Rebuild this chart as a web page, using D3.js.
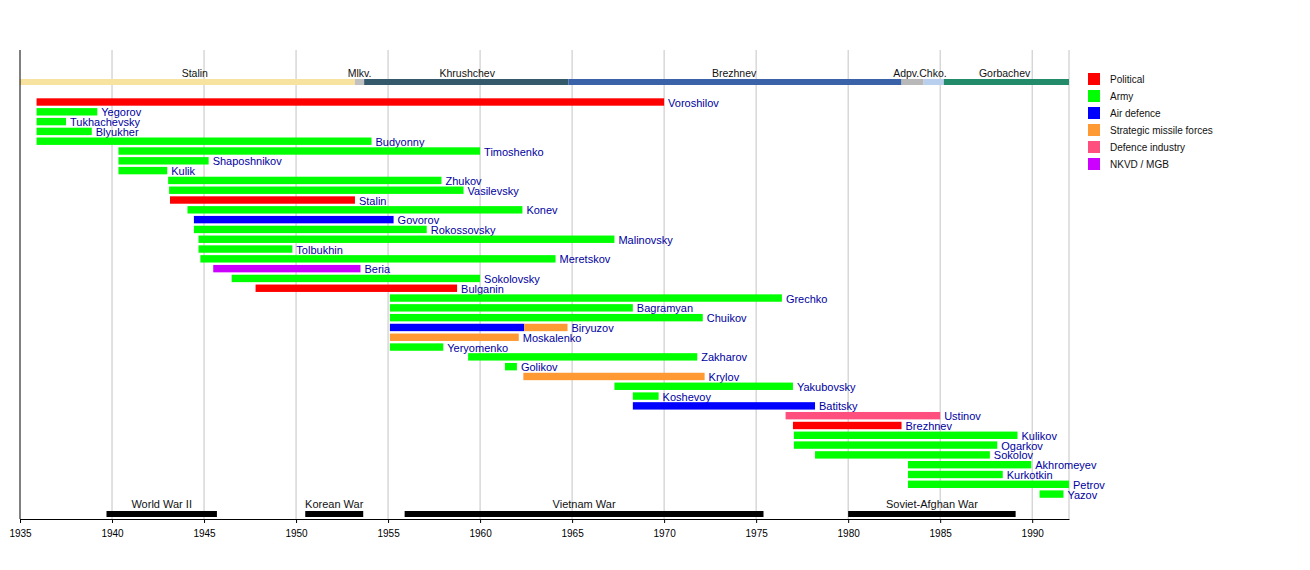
<!DOCTYPE html>
<html><head><meta charset="utf-8">
<script src="https://cdn.jsdelivr.net/npm/d3@7"></script>
<style>body{margin:0;background:#fff}text{font-family:"Liberation Sans",Arial,sans-serif}</style>
</head><body><div id="chart"></div>
<script>
const categories = ["Political", "Army", "Air defence", "Strategic missile forces", "Defence industry", "NKVD / MGB"];
const catColors = ["#ff0000", "#00ff00", "#0000ff", "#ff9933", "#ff4f7f", "#cc00ff"];

// name, [segments: start, end, category]
const marshals = [
    ["Voroshilov", [[1935.9, 1970.0, "Political"]]],
    ["Yegorov", [[1935.9, 1939.2, "Army"]]],
    ["Tukhachevsky", [[1935.9, 1937.5, "Army"]]],
    ["Blyukher", [[1935.9, 1938.9, "Army"]]],
    ["Budyonny", [[1935.9, 1954.1, "Army"]]],
    ["Timoshenko", [[1940.35, 1960.0, "Army"]]],
    ["Shaposhnikov", [[1940.35, 1945.25, "Army"]]],
    ["Kulik", [[1940.35, 1943.0, "Army"]]],
    ["Zhukov", [[1943.05, 1957.9, "Army"]]],
    ["Vasilevsky", [[1943.1, 1959.1, "Army"]]],
    ["Stalin", [[1943.15, 1953.2, "Political"]]],
    ["Konev", [[1944.1, 1962.3, "Army"]]],
    ["Govorov", [[1944.45, 1955.3, "Air defence"]]],
    ["Rokossovsky", [[1944.45, 1957.1, "Army"]]],
    ["Malinovsky", [[1944.7, 1967.3, "Army"]]],
    ["Tolbukhin", [[1944.7, 1949.8, "Army"]]],
    ["Meretskov", [[1944.8, 1964.1, "Army"]]],
    ["Beria", [[1945.5, 1953.5, "NKVD / MGB"]]],
    ["Sokolovsky", [[1946.5, 1960.0, "Army"]]],
    ["Bulganin", [[1947.8, 1958.75, "Political"]]],
    ["Grechko", [[1955.1, 1976.4, "Army"]]],
    ["Bagramyan", [[1955.1, 1968.3, "Army"]]],
    ["Chuikov", [[1955.1, 1972.1, "Army"]]],
    ["Biryuzov", [[1955.1, 1962.4, "Air defence"], [1962.4, 1964.75, "Strategic missile forces"]]],
    ["Moskalenko", [[1955.1, 1962.1, "Strategic missile forces"]]],
    ["Yeryomenko", [[1955.1, 1958.0, "Army"]]],
    ["Zakharov", [[1959.35, 1971.8, "Army"]]],
    ["Golikov", [[1961.35, 1962.0, "Army"]]],
    ["Krylov", [[1962.35, 1972.2, "Strategic missile forces"]]],
    ["Yakubovsky", [[1967.3, 1977.0, "Army"]]],
    ["Koshevoy", [[1968.3, 1969.7, "Army"]]],
    ["Batitsky", [[1968.3, 1978.2, "Air defence"]]],
    ["Ustinov", [[1976.6, 1985.0, "Defence industry"]]],
    ["Brezhnev", [[1977.0, 1982.9, "Political"]]],
    ["Kulikov", [[1977.05, 1989.2, "Army"]]],
    ["Ogarkov", [[1977.05, 1988.1, "Army"]]],
    ["Sokolov", [[1978.2, 1987.7, "Army"]]],
    ["Akhromeyev", [[1983.25, 1989.95, "Army"]]],
    ["Kurkotkin", [[1983.25, 1988.4, "Army"]]],
    ["Petrov", [[1983.25, 1992.0, "Army"]]],
    ["Yazov", [[1990.4, 1991.7, "Army"]]]
];

const leaders = [
    ["Stalin", 1935.0, 1953.2, "#f7e2a0"],
    ["Mlkv.", 1953.2, 1953.7, "#c0c0c0"],
    ["Khrushchev", 1953.7, 1964.8, "#34596b"],
    ["Brezhnev", 1964.8, 1982.9, "#3a62a8"],
    ["Adpv.", 1982.9, 1984.1, "#b8b8b8"],
    ["Chko.", 1984.1, 1985.2, "#b8cfee"],
    ["Gorbachev", 1985.2, 1992.0, "#238a6a"]
];
const leaderLabels = [["Stalin", 1944.5], ["Mlkv.", 1953.45], ["Khrushchev", 1959.3], ["Brezhnev", 1973.8], ["Adpv.Chko.", 1983.9], ["Gorbachev", 1988.5]];

const wars = [
    ["World War II", 1939.7, 1945.7],
    ["Korean War", 1950.5, 1953.65],
    ["Vietnam War", 1955.9, 1975.4],
    ["Soviet-Afghan War", 1980.0, 1989.1]
];
const tickYears = [1935, 1940, 1945, 1950, 1955, 1960, 1965, 1970, 1975, 1980, 1985, 1990];

const W = 1310, H = 570;
const svg = d3.select("#chart").append("svg").attr("width", W).attr("height", H);

const x = d3.scaleLinear().domain([1935, 1992]).range([20, 1069]);
const y = d3.scaleBand().domain(marshals.map(d => d[0])).range([97.1, 499.0]);
const color = d3.scaleOrdinal().domain(categories).range(catColors);
const plotTop = 50, axisY = 519;

// gridlines
svg.append("g").selectAll("line")
    .data(tickYears.slice(1).concat([1992]))
    .enter().append("line")
    .attr("x1", d => x(d)).attr("x2", d => x(d))
    .attr("y1", plotTop).attr("y2", axisY)
    .attr("stroke", "#c4c4c4").attr("stroke-width", 1);

// leaders bar
svg.append("g").selectAll("rect")
    .data(leaders).enter().append("rect")
    .attr("x", d => x(d[1])).attr("width", d => x(d[2]) - x(d[1]))
    .attr("y", 79).attr("height", 6)
    .attr("fill", d => d[3]);
svg.append("g").selectAll("text")
    .data(leaderLabels).enter().append("text")
    .attr("x", d => x(d[1])).attr("y", 77)
    .attr("text-anchor", "middle")
    .style("font-size", "10.5px").style("fill", "#111")
    .text(d => d[0]);

// marshal bars
const rows = svg.append("g").selectAll("g")
    .data(marshals).enter().append("g");
rows.selectAll("rect")
    .data(d => d[1].map(s => s.concat([d[0]]))).enter().append("rect")
    .attr("x", d => x(d[0])).attr("width", d => x(d[1]) - x(d[0]))
    .attr("y", d => y(d[3]) + 1.2)
    .attr("height", 7.4)
    .attr("fill", d => color(d[2]));
rows.append("text")
    .attr("x", d => x(d3.max(d[1], s => s[1])) + 4)
    .attr("y", d => y(d[0]) + y.bandwidth() / 2 + 4.5)
    .style("font-size", "11px").style("fill", "#0000a0")
    .text(d => d[0]);

// wars
svg.append("g").selectAll("rect")
    .data(wars).enter().append("rect")
    .attr("x", d => x(d[1])).attr("width", d => x(d[2]) - x(d[1]))
    .attr("y", 511).attr("height", 6).attr("fill", "#000");
svg.append("g").selectAll("text")
    .data(wars).enter().append("text")
    .attr("x", d => (x(d[1]) + x(d[2])) / 2).attr("y", 508)
    .attr("text-anchor", "middle")
    .style("font-size", "11px").style("fill", "#111")
    .text(d => d[0]);

// axes
const xAxis = svg.append("g")
    .attr("transform", `translate(0,${axisY})`)
    .call(d3.axisBottom(x).tickValues(tickYears).tickFormat(d3.format("d")).tickSize(4).tickSizeOuter(0));
xAxis.select(".domain").attr("stroke", "#000");
xAxis.selectAll("text").style("font-size", "10px").style("font-family", "Liberation Sans, Arial, sans-serif").attr("dy", "1.1em");
svg.append("line").attr("x1", 20).attr("x2", 20).attr("y1", plotTop).attr("y2", axisY).attr("stroke", "#000");

// legend
const legend = svg.append("g").selectAll("g")
    .data(categories).enter().append("g")
    .attr("transform", (d, i) => `translate(1088,${73 + i * 17})`);
legend.append("rect").attr("width", 12).attr("height", 12).attr("fill", d => color(d));
legend.append("text").attr("x", 22).attr("y", 10)
    .style("font-size", "10px").style("fill", "#111").text(d => d);
</script>
</body></html>
